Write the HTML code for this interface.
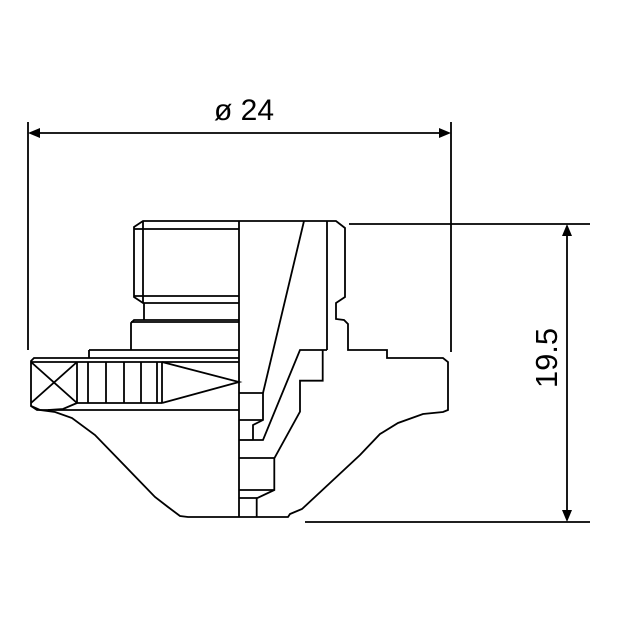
<!DOCTYPE html>
<html><head><style>html,body{margin:0;padding:0;background:#fff}svg{display:block}</style></head>
<body>
<svg width="618" height="618" viewBox="0 0 618 618" xmlns="http://www.w3.org/2000/svg">
<rect width="618" height="618" fill="#fff"/>
<g stroke="#000" stroke-width="1.8" fill="none" stroke-linejoin="miter">
<line x1="28" y1="122" x2="28" y2="350"/>
<line x1="451" y1="122" x2="451" y2="352"/>
<line x1="32" y1="133" x2="447" y2="133"/>
<line x1="349" y1="224" x2="590" y2="224"/>
<line x1="305" y1="522" x2="590" y2="522"/>
<line x1="567" y1="230" x2="567" y2="516"/>

<polyline points="239,221 143,221 134,227 134,297 143,303 239,303"/>
<line x1="143" y1="221" x2="143" y2="303"/>
<line x1="134" y1="229" x2="239" y2="229"/>
<line x1="134" y1="296" x2="239" y2="296"/>
<line x1="144" y1="303" x2="144" y2="320"/>
<polyline points="239,320 134,320 131,323 131,350"/>
<line x1="131" y1="322" x2="239" y2="322"/>
<line x1="89" y1="350" x2="239" y2="350"/>
<line x1="89" y1="350" x2="89" y2="358"/>
<polyline points="239,358 34,358 31,361 31,406 37,410 239,410"/>
<line x1="31" y1="362" x2="239" y2="362"/>
<line x1="77" y1="362" x2="77" y2="403"/>
<line x1="31" y1="362" x2="77" y2="403"/>
<line x1="77" y1="362" x2="31" y2="403"/>
<line x1="77" y1="403" x2="162" y2="403"/>
<polyline points="77,403 63,409 48,410"/>
<line x1="88" y1="362" x2="88" y2="403"/>
<line x1="106" y1="362" x2="106" y2="403"/>
<line x1="124" y1="362" x2="124" y2="403"/>
<line x1="141" y1="362" x2="141" y2="403"/>
<line x1="157" y1="362" x2="157" y2="403"/>
<line x1="162" y1="362" x2="162" y2="403"/>
<polyline points="162,362 239,382 162,403"/>
<polyline points="31,406 40,410 55,412 72,418 95,435 155,497 168,507 180,516 188,517 239,517"/>

<line x1="239" y1="221" x2="239" y2="517"/>

<polyline points="239,221 336,221 345,228 345,297 336,303 336,319 344,320 348,324 348,350 387,350 387,358 443,358 448,362 448,410 443,412 423,414 398,423 380,434 360,455 302,509 290,514 288,517 239,517"/>
<line x1="304" y1="221" x2="263" y2="393"/>
<line x1="327" y1="221" x2="327" y2="350"/>
<polyline points="327,350 300,350 263,440 253,440"/>
<polyline points="322.7,350 322.7,380.7 300,380.7 300,411.7 274.3,458.3 274.3,490 256.7,498.3 256.7,517"/>
<polyline points="239,393 263,393 263,420 253,425 253,440"/>
<line x1="239" y1="420" x2="263" y2="420"/>
<line x1="239" y1="458" x2="274" y2="458"/>
<line x1="239" y1="490" x2="274" y2="490"/>
<line x1="239" y1="498" x2="257" y2="498"/>
<line x1="239" y1="440" x2="253" y2="440"/>
</g>
<g fill="#000">
<polygon points="28,133 40,128 40,138"/>
<polygon points="451,133 439,128 439,138"/>
<polygon points="567,224 562,236 572,236"/>
<polygon points="567,522 562,510 572,510"/>
</g>
<text x="244" y="120" font-family="Liberation Sans, sans-serif" font-size="30" text-anchor="middle" fill="#000">ø 24</text>
<text transform="translate(557,358) rotate(-90)" font-family="Liberation Sans, sans-serif" font-size="31" text-anchor="middle" fill="#000">19.5</text>
</svg>
</body></html>
